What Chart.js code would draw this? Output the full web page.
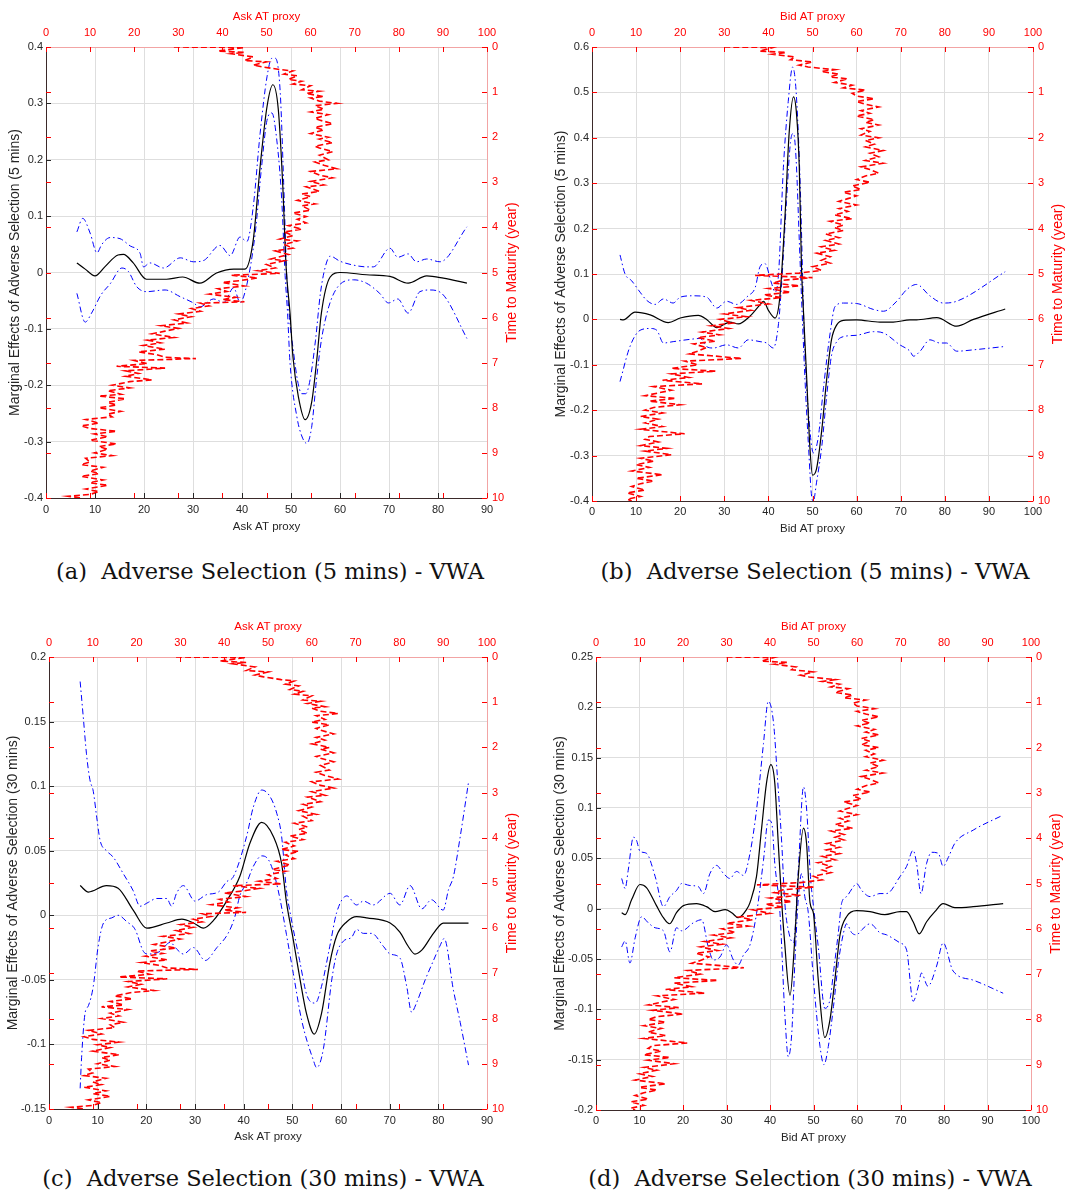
<!DOCTYPE html>
<html><head><meta charset="utf-8">
<script src="https://cdn.jsdelivr.net/npm/chart.js@4.4.1/dist/chart.umd.min.js"></script>
<style>
html,body{margin:0;padding:0;background:#fff;}
body{width:1083px;height:1195px;position:relative;overflow:hidden;}
canvas{position:absolute;display:block;}
.cap{position:absolute;font-family:"DejaVu Serif","Liberation Serif",serif;font-size:22.5px;color:#111;white-space:nowrap;transform:translateX(-50%);line-height:26px;}
</style></head><body>
<canvas id="ca" width="540" height="545" style="left:0;top:0"></canvas>
<canvas id="cb" width="543" height="545" style="left:540px;top:0"></canvas>
<canvas id="cc" width="540" height="545" style="left:0;top:610px"></canvas>
<canvas id="cd" width="543" height="545" style="left:540px;top:610px"></canvas>
<div class="cap" style="left:270px;top:558px">(a)&nbsp; Adverse Selection (5 mins) - VWA</div>
<div class="cap" style="left:815px;top:558px">(b)&nbsp; Adverse Selection (5 mins) - VWA</div>
<div class="cap" style="left:263px;top:1165px">(c)&nbsp; Adverse Selection (30 mins) - VWA</div>
<div class="cap" style="left:810px;top:1165px">(d)&nbsp; Adverse Selection (30 mins) - VWA</div>
<script>
// ---------------- tick labels ----------------
const xTicks90 = [0,10,20,30,40,50,60,70,80,90];
const xTicks100 = [0,10,20,30,40,50,60,70,80,90,100];
const topTicks = [0,10,20,30,40,50,60,70,80,90,100];
const maturityTicks = [0,1,2,3,4,5,6,7,8,9,10];
const yTicksA = [-0.4,-0.3,-0.2,-0.1,0,0.1,0.2,0.3,0.4];
const yTicksB = [-0.4,-0.3,-0.2,-0.1,0,0.1,0.2,0.3,0.4,0.5,0.6];
const yTicksC = [-0.15,-0.1,-0.05,0,0.05,0.1,0.15,0.2];
const yTicksD = [-0.2,-0.15,-0.1,-0.05,0,0.05,0.1,0.15,0.2,0.25];

// ---------------- red series: [time to maturity, AT proxy] ----------------
const askPath = [[0,29],[0.005,37],[0.01,45],[0.09,39],[0.12,45],[0.15,42],[0.22,47],[0.3,45],[0.33,50],[0.4,47],[0.44,49],[0.5,53],[0.53,56],[0.6,54],[0.64,57],[0.72,55],[0.76,58],[0.82,56],[0.86,60],[0.95,58],[0.98,62],[1.03,59],[1.1,63],[1.13,60],[1.2,62],[1.25,66],[1.3,61],[1.38,63],[1.44,60],[1.5,64],[1.58,61],[1.62,62],[1.7,65],[1.78,61],[1.84,63],[1.92,60],[2.0,64],[2.04,62],[2.12,65],[2.2,61],[2.24,62],[2.32,65],[2.4,62],[2.5,64],[2.55,61],[2.62,63],[2.7,66],[2.76,60],[2.84,62],[2.9,65],[2.98,60],[3.06,63],[3.1,59],[3.2,62],[3.26,58],[3.32,60],[3.4,57],[3.48,61],[3.52,58],[3.62,60],[3.68,56],[3.76,59],[3.82,57],[3.9,59],[3.96,55],[4.04,58],[4.1,54],[4.18,56],[4.26,53],[4.3,57],[4.38,54],[4.46,56],[4.52,52],[4.6,55],[4.7,51],[4.74,54],[4.82,50],[4.9,52],[4.96,48],[5.02,53],[5.06,42],[5.12,48],[5.18,44],[5.22,40],[5.3,45],[5.36,39],[5.42,41],[5.48,37],[5.55,43],[5.6,40],[5.65,45],[5.68,35],[5.74,37],[5.8,33],[5.86,35],[5.92,30],[5.98,33],[6.05,29],[6.12,32],[6.18,26],[6.24,30],[6.3,27],[6.36,24],[6.44,29],[6.5,23],[6.56,26],[6.62,22],[6.7,27],[6.76,21],[6.82,25],[6.88,27],[6.91,34],[6.95,20],[7.02,23],[7.08,16],[7.12,27],[7.18,18],[7.24,21],[7.3,18],[7.38,24],[7.42,19],[7.5,15],[7.56,19],[7.62,14],[7.7,17],[7.74,12],[7.8,18],[7.88,14],[7.94,16],[8.0,12],[8.08,17],[8.14,14],[8.2,15],[8.26,9],[8.34,12],[8.4,8],[8.46,10],[8.52,16],[8.58,11],[8.64,14],[8.72,10],[8.8,16],[8.86,12],[8.92,14],[9.0,11],[9.06,15],[9.12,9],[9.2,10],[9.26,8],[9.32,13],[9.4,10],[9.46,12],[9.52,8],[9.6,13],[9.66,10],[9.72,14],[9.8,9],[9.86,12],[9.92,10],[9.96,5],[10,8]];
const bidPath = [[0,30],[0.005,36],[0.01,41],[0.09,38],[0.12,44],[0.16,41],[0.22,46],[0.28,45],[0.33,50],[0.4,47],[0.44,49],[0.5,55],[0.54,52],[0.6,56],[0.66,54],[0.7,58],[0.78,55],[0.84,59],[0.9,57],[0.95,62],[1.02,59],[1.08,60],[1.14,64],[1.2,60],[1.26,62],[1.32,65],[1.4,61],[1.46,63],[1.52,60],[1.6,64],[1.66,62],[1.72,65],[1.8,61],[1.86,63],[1.94,61],[2.0,65],[2.06,62],[2.14,64],[2.2,62],[2.28,66],[2.34,63],[2.42,65],[2.5,62],[2.56,66],[2.64,61],[2.7,63],[2.78,65],[2.84,62],[2.92,60],[2.98,63],[3.06,59],[3.14,61],[3.2,57],[3.28,60],[3.34,58],[3.4,56],[3.48,60],[3.56,56],[3.62,58],[3.7,55],[3.78,59],[3.84,54],[3.92,57],[3.98,55],[4.04,57],[4.12,53],[4.2,56],[4.26,53],[4.34,56],[4.4,52],[4.48,55],[4.54,51],[4.62,54],[4.7,52],[4.76,54],[4.84,50],[4.92,52],[4.98,47],[5.03,37],[5.08,50],[5.14,43],[5.2,41],[5.26,47],[5.32,40],[5.4,45],[5.46,39],[5.52,43],[5.58,36],[5.66,40],[5.74,33],[5.8,36],[5.88,30],[5.94,35],[6.0,29],[6.08,32],[6.14,27],[6.2,31],[6.28,25],[6.34,29],[6.4,24],[6.48,28],[6.54,23],[6.62,26],[6.7,24],[6.76,22],[6.8,27],[6.86,34],[6.92,21],[7.0,24],[7.08,18],[7.14,28],[7.2,18],[7.28,22],[7.34,16],[7.42,25],[7.48,14],[7.56,18],[7.62,15],[7.68,12],[7.74,19],[7.8,13],[7.88,20],[7.94,14],[8.0,12],[8.06,16],[8.14,11],[8.2,15],[8.28,12],[8.36,16],[8.42,11],[8.52,21],[8.58,13],[8.64,12],[8.7,15],[8.78,11],[8.84,17],[8.9,12],[8.98,18],[9.06,11],[9.12,14],[9.2,10],[9.26,13],[9.34,9],[9.42,16],[9.5,10],[9.56,14],[9.62,11],[9.68,9],[9.76,12],[9.82,8],[9.9,11],[9.96,8],[10,9]];

// ---------------- panel (a) ----------------
const aMidX = [6.3,8,10,12,14.7,15.8,17.8,20.5,24.6,27.9,31.4,34.8,38.3,40.6,42.3,43.7,45.1,46.3,47.4,48.3,49,49.8,50.4,51.5,52.9,54.2,55.2,56.2,58,60,65.4,70.2,73.9,77.7,81.1,85.9];
const aMidY = [0.017,0.006,-0.006,0.01,0.031,0.032,0.017,-0.012,-0.012,-0.008,-0.019,-0.001,0.006,0.006,0.058,0.188,0.294,0.333,0.29,0.158,0.01,-0.072,-0.15,-0.22,-0.261,-0.231,-0.16,-0.072,-0.008,0,-0.004,-0.007,-0.019,-0.006,-0.01,-0.019];
const aUpX = [6.3,7.5,9,10.4,11.4,13.1,15.1,17.2,19.2,19.9,21.2,24,27.4,30.1,32.1,35.5,37.6,39.6,41,42.3,43.7,45.1,46.1,46.8,47.8,48.5,49.1,49.7,50.5,51.3,52.2,53,53.9,55,56,57,58,60,62.8,65.4,66.8,70.2,71.8,73.9,75.6,77.7,80.4,85.9];
const aUpY = [0.072,0.096,0.07,0.035,0.05,0.062,0.06,0.047,0.034,0.01,0.017,0.008,0.026,0.019,0.021,0.048,0.03,0.063,0.055,0.117,0.247,0.347,0.38,0.38,0.32,0.16,0.0,-0.08,-0.14,-0.19,-0.215,-0.215,-0.19,-0.12,-0.037,0.01,0.029,0.02,0.013,0.01,0.01,0.043,0.027,0.033,0.019,0.024,0.019,0.081];
const aLoX = [6.3,8,9.3,11.2,13.1,15.5,16.8,18.5,20.5,24.3,27.4,30.1,31.4,34.2,36.3,38.3,39.6,41,42.7,44,45.1,46.1,47.1,48.1,48.8,49.3,49.8,51.2,52.2,53.2,54.2,55.2,56.2,57.7,59.5,62.8,65.4,68.1,69.9,71.8,73.9,76.3,78.4,81.1,85.9];
const aLoY = [-0.037,-0.088,-0.072,-0.04,-0.02,0.008,0.002,-0.025,-0.034,-0.031,-0.043,-0.054,-0.061,-0.047,-0.053,-0.027,-0.053,-0.021,0.07,0.188,0.27,0.283,0.235,0.13,-0.005,-0.072,-0.16,-0.256,-0.29,-0.303,-0.275,-0.19,-0.12,-0.061,-0.026,-0.013,-0.019,-0.037,-0.054,-0.047,-0.072,-0.034,-0.031,-0.04,-0.117];

// ---------------- panel (b) ----------------
const bMidX = [6.35,7.1,9.75,13.2,17.3,20,24.1,26,28.3,31.3,33.2,35.8,38.1,38.9,40,41.5,42.6,43.8,44.7,45.7,46.4,47,47.5,47.9,48.7,49.4,50,50.9,52.1,53.2,54.3,55.5,57,60,65.3,68.3,72.1,73.6,78.2,82.7,86.5,93.7];
const bMidY = [0,-0.001,0.016,0.01,-0.007,0.003,0.009,0,-0.018,-0.006,-0.01,0.007,0.032,0.04,0.02,0.003,0.05,0.234,0.41,0.49,0.45,0.336,0.116,0.028,-0.133,-0.28,-0.343,-0.33,-0.244,-0.133,-0.045,-0.012,-0.002,-0.001,-0.006,-0.006,-0.001,-0.001,0.004,-0.015,0,0.023];
const bUpX = [6.35,7.5,9,10.9,12.4,14.3,16.2,18.4,20,23,26,28.3,30.5,32.8,35.4,37,38.1,39.2,40.7,41.5,42.3,43.4,44.5,45.5,46.3,47.2,47.8,48.1,49.1,50.2,51.3,52.5,54,55.1,57,60,63.8,66.1,69.1,71.4,73.6,76.6,79.7,82.7,93.7];
const bUpY = [0.142,0.1,0.085,0.06,0.042,0.033,0.045,0.036,0.049,0.052,0.049,0.025,0.04,0.033,0.052,0.07,0.116,0.123,0.08,0.06,0.1,0.335,0.48,0.556,0.5,0.3,0.08,-0.03,-0.206,-0.294,-0.26,-0.15,-0.03,0.028,0.036,0.035,0.022,0.018,0.04,0.066,0.077,0.052,0.036,0.04,0.105];
const bLoX = [6.35,8.6,10.9,13.2,14.7,16.2,18.4,22.2,24.5,26,27.5,30.5,33.2,35.4,38.1,39.6,41.1,42.3,43,44.1,45,45.7,46.3,47,47.5,48.3,49.1,49.8,50.2,50.9,52.1,53.2,54.3,55.5,57,60,63.8,66.1,69.8,72.1,72.9,74.4,76.6,78.9,80.4,82.7,86.5,93.3];
const bLoY = [-0.137,-0.06,-0.024,-0.02,-0.024,-0.052,-0.049,-0.044,-0.042,-0.06,-0.063,-0.056,-0.063,-0.045,-0.049,-0.052,-0.063,-0.009,0.08,0.26,0.39,0.41,0.35,0.175,0.05,-0.133,-0.28,-0.39,-0.4,-0.36,-0.28,-0.17,-0.08,-0.049,-0.038,-0.035,-0.027,-0.03,-0.056,-0.07,-0.081,-0.07,-0.045,-0.052,-0.052,-0.07,-0.067,-0.06];

// ---------------- panel (c) ----------------
const cMidX = [6.4,8.1,11.8,14.2,17.3,20.1,24.2,27.3,29.7,31.7,33.8,36.5,39.2,41.3,43.7,46.1,47.8,48.8,50.2,51.6,52.9,54.5,56,57.7,59.1,61.2,63.2,65.3,70.1,72.1,73.8,75.2,76.6,79,81,86.2];
const cMidY = [0.023,0.018,0.023,0.021,0.004,-0.01,-0.006,-0.003,-0.006,-0.01,-0.004,0.011,0.03,0.056,0.072,0.061,0.04,0.01,-0.019,-0.05,-0.076,-0.092,-0.076,-0.037,-0.016,-0.005,-0.001,-0.002,-0.006,-0.013,-0.024,-0.03,-0.027,-0.014,-0.006,-0.006];
const cUpX = [6.4,7.1,7.7,8.4,9.1,9.8,10.5,11.8,13.2,15.3,17.3,18.7,20.4,22.1,24.2,25.2,26.2,27.6,30,32.4,34.8,36.5,37.9,40.6,42,43.7,45.4,46.8,47.8,48.8,49.5,51.5,53,54.7,56,57.7,59.1,61.2,63.2,64.6,66.6,70.1,72.1,74.2,76.6,78.6,81,82.1,83.1,84.5,86.2];
const cUpY = [0.181,0.151,0.125,0.105,0.096,0.076,0.058,0.05,0.045,0.032,0.019,0.007,0.01,0.013,0.013,0.007,0.017,0.023,0.011,0.016,0.018,0.026,0.03,0.061,0.084,0.097,0.092,0.079,0.061,0.019,0.003,-0.035,-0.062,-0.068,-0.055,-0.024,0.002,0.015,0.008,0.011,0.008,0.017,0.008,0.023,0.005,0.012,0.004,0.02,0.03,0.061,0.103];
const cLoX = [6.4,6.7,7.4,8.1,9.1,10.1,11.2,12.9,14.2,16,17.7,19.4,20.4,22.8,24.9,26.2,27.6,29.7,32.1,34.5,36.8,38.2,39.2,40.6,42,43.7,45.1,46.4,47.5,48.8,50.2,51.9,54.3,55,56.4,58.1,59.1,60.5,62.2,63.2,64.6,66.3,68.7,70.1,72.1,73.5,74.5,75.5,77.3,79,80.3,81.2,83.1,84.5,86.2];
const cLoY = [-0.134,-0.11,-0.076,-0.07,-0.055,-0.024,-0.006,-0.002,0,-0.005,-0.011,-0.028,-0.03,-0.028,-0.021,-0.026,-0.03,-0.025,-0.035,-0.025,-0.014,-0.001,0.015,0.025,0.038,0.046,0.043,0.03,0.012,-0.015,-0.045,-0.081,-0.112,-0.118,-0.103,-0.05,-0.03,-0.02,-0.017,-0.011,-0.014,-0.014,-0.024,-0.03,-0.033,-0.055,-0.075,-0.068,-0.05,-0.035,-0.024,-0.018,-0.058,-0.083,-0.116];

// ---------------- panel (d) ----------------
const dMidX = [5.9,6.7,8.2,10.1,11.6,13.9,15.5,16.9,18.5,20.1,23.1,25.4,27.4,29.7,31.2,32.7,34.6,35.4,36.9,38.1,39.2,40.2,41.1,41.9,42.7,43.3,44.6,45.7,46.5,47.7,48.4,49.2,50,51.1,52.6,53.8,54.9,56.1,57.6,59.9,63,66.4,69.9,71.4,72.9,74.3,76,77.9,79.8,82.5,86.7,93.6];
const dMidY = [-0.004,-0.006,0.009,0.024,0.021,0.003,-0.009,-0.015,-0.004,0.003,0.005,0.002,-0.003,-0.001,-0.004,-0.009,-0.001,0.006,0.032,0.081,0.125,0.143,0.125,0.065,0.006,-0.03,-0.086,-0.03,0.032,0.08,0.065,0.006,-0.005,-0.071,-0.128,-0.11,-0.071,-0.026,-0.008,-0.002,-0.003,-0.006,-0.003,-0.003,-0.013,-0.025,-0.013,-0.003,0.005,0.001,0.002,0.005];
const dUpX = [5.9,6.7,7.4,8.6,9.3,10.1,11.6,13.6,15.5,17,18.5,19.7,21.6,23.5,24.7,26.2,27.7,29.3,30.8,32.3,33.9,35.4,36.9,38.5,39.6,40.8,41.7,42.7,43.4,44.4,45.4,46.5,47.7,48.4,49.3,50,51.1,52.6,53.8,54.6,55.7,56.5,57.6,59.2,59.9,61.1,63,65.3,66.8,69.9,71.4,72.9,73.7,74.7,76,77.2,78.7,79.8,81,82.5,86.7,93.6];
const dUpY = [0.03,0.02,0.038,0.071,0.068,0.057,0.055,0.032,0.002,0.012,0.018,0.025,0.023,0.022,0.015,0.035,0.043,0.035,0.03,0.037,0.033,0.055,0.098,0.164,0.206,0.185,0.131,0.065,0.006,-0.025,-0.034,0.038,0.121,0.1,0.032,0.002,-0.038,-0.099,-0.09,-0.063,-0.024,0.006,0.012,0.022,0.025,0.018,0.012,0.015,0.015,0.032,0.042,0.058,0.045,0.015,0.045,0.056,0.055,0.042,0.051,0.065,0.078,0.093];
const dLoX = [5.9,6.7,7.8,9,10.5,12,13.6,15.5,17,18.5,19.7,22.4,24.3,25.8,27,28.5,30,31.6,32.7,33.9,35.4,36.9,38.5,39.6,40.4,41.1,42.3,43.4,44.2,45,45.7,46.5,47.3,48,48.8,50,51.5,52.4,53.4,54.6,55.7,56.9,57.6,58.8,59.9,61.1,63,65.3,66.8,69.9,71.4,72.9,74.1,74.8,76.3,78.3,79.8,82.1,86.7,93.6];
const dLoY = [-0.038,-0.032,-0.054,-0.029,-0.008,-0.014,-0.019,-0.022,-0.043,-0.019,-0.022,-0.014,-0.011,-0.038,-0.051,-0.048,-0.036,-0.051,-0.056,-0.046,-0.036,-0.005,0.048,0.088,0.085,0.045,-0.005,-0.104,-0.147,-0.124,-0.055,0.01,0.035,0.012,-0.004,-0.071,-0.137,-0.155,-0.137,-0.097,-0.054,-0.024,-0.015,-0.024,-0.026,-0.021,-0.015,-0.024,-0.026,-0.034,-0.041,-0.092,-0.077,-0.064,-0.077,-0.057,-0.034,-0.062,-0.071,-0.084];

// ---------------- styling / fonts ----------------
const RED = '#ff0000';
const DARK = '#262626';
function hasFont(name){
  const c = document.createElement('canvas').getContext('2d');
  const s = 'abcdefghijklmnopqrstuvwxyz0123456789';
  c.font = '20px monospace'; const w0 = c.measureText(s).width;
  c.font = '20px "' + name + '", monospace'; return Math.abs(c.measureText(s).width - w0) > 0.5;
}
const NARROW = hasFont('Liberation Sans Narrow');
const HFAM = NARROW ? '"Liberation Sans Narrow", "Liberation Sans", Arial, sans-serif' : '"Liberation Sans", Arial, sans-serif';
const TICK = NARROW ? 12.5 : 11;
const HT = NARROW ? 13.5 : 11.5;      // horizontal axis titles
const VFAM = '"Liberation Sans", Arial, sans-serif';
const VT = 14;                        // vertical axis titles

const zip = (xs, ys) => xs.map((x, i) => ({x, y: ys[i]}));
const pathPts = p => p.map(([t, v]) => ({x: v, y: t}));
const fixTicks = arr => s => { s.ticks = arr.map(v => ({value: v})); };

const inwardTicks = {
  id: 'inwardTicks',
  afterDatasetsDraw(chart) {
    const {ctx, chartArea: a, scales: s} = chart;
    const L = 5;
    const seg = (x1, y1, x2, y2) => { ctx.beginPath(); ctx.moveTo(x1, y1); ctx.lineTo(x2, y2); ctx.stroke(); };
    const px = (sc, v) => Math.round(sc.getPixelForValue(v)) + 0.5;
    ctx.save();
    ctx.lineWidth = 1;
    ctx.strokeStyle = DARK;
    s.y.ticks.forEach(t => { const p = px(s.y, t.value); seg(a.left, p, a.left + L, p); });
    s.x.ticks.forEach(t => { const p = px(s.x, t.value); seg(p, a.bottom, p, a.bottom - L); });
    ctx.strokeStyle = RED;
    s.y2.ticks.forEach(t => { const p = px(s.y2, t.value); seg(a.right, p, a.right - L, p); seg(a.left, p, a.left + L, p); });
    s.x2.ticks.forEach(t => { const p = px(s.x2, t.value); seg(p, a.top, p, a.top + L); seg(p, a.bottom, p, a.bottom - L); });
    ctx.restore();
  }
};
const rightTitle = {
  id: 'rightTitle',
  afterDraw(chart, args, opts) {
    const {ctx, chartArea: a} = chart;
    ctx.save();
    ctx.translate(a.right + opts.offset, (a.top + a.bottom) / 2);
    ctx.rotate(-Math.PI / 2);
    ctx.font = VT + 'px ' + VFAM;
    ctx.fillStyle = RED; ctx.textAlign = 'center'; ctx.textBaseline = 'middle';
    ctx.fillText(opts.text, 0, 0);
    ctx.restore();
  }
};

function makePanel(id, g, d) {
  const W = document.getElementById(id).width, H = document.getElementById(id).height;
  const a = g.area;
  const tickLH = TICK * 1.2, htLH = HT * 1.2, vtLH = VT * 1.2;
  return new Chart(document.getElementById(id), {
    type: 'scatter',
    data: { datasets: [
      { data: pathPts(d.red), xAxisID: 'x2', yAxisID: 'y2', showLine: true, borderColor: RED, borderWidth: 1.6, borderDash: [6, 3], pointRadius: 0, tension: 0 },
      { data: zip(d.midX, d.midY), xAxisID: 'x', yAxisID: 'y', showLine: true, borderColor: '#000', borderWidth: 1.2, pointRadius: 0, cubicInterpolationMode: 'monotone' },
      { data: zip(d.upX, d.upY), xAxisID: 'x', yAxisID: 'y', showLine: true, borderColor: '#0000ff', borderWidth: 1, borderDash: [6, 3, 1.5, 3], pointRadius: 0, cubicInterpolationMode: 'monotone' },
      { data: zip(d.loX, d.loY), xAxisID: 'x', yAxisID: 'y', showLine: true, borderColor: '#0000ff', borderWidth: 1, borderDash: [6, 3, 1.5, 3], pointRadius: 0, cubicInterpolationMode: 'monotone' }
    ]},
    options: {
      responsive: false, animation: false, events: [],
      layout: { padding: 0, autoPadding: false },
      plugins: { legend: { display: false }, tooltip: { enabled: false }, rightTitle: { text: 'Time to Maturity (year)', offset: 25 } },
      scales: {
        x: { type: 'linear', position: 'bottom', min: 0, max: d.xMax, afterBuildTicks: fixTicks(d.xTicks),
             ticks: { autoSkip: false, maxRotation: 0, color: DARK, font: { family: HFAM, size: TICK }, padding: (g.bLab - a.b) - tickLH / 2, callback: v => String(v) },
             grid: { color: '#dedede', lineWidth: 1, drawTicks: false }, border: { color: '#3b2a2a', width: 1 },
             title: { display: true, text: d.xTitle, color: DARK, font: { family: HFAM, size: HT }, padding: { top: 0, bottom: (H - g.bTit) - htLH / 2 } },
             afterFit: s => { s.height = H - a.b; } },
        x2: { type: 'linear', position: 'top', min: 0, max: 100, afterBuildTicks: fixTicks(topTicks),
             ticks: { autoSkip: false, maxRotation: 0, color: RED, font: { family: HFAM, size: TICK }, padding: (a.t - 33) - tickLH / 2, callback: v => String(v) },
             grid: { color: 'rgba(0,0,0,0)', drawTicks: false }, border: { color: '#f2a4a4', width: 1 },
             title: { display: true, text: d.xTitle, color: RED, font: { family: HFAM, size: HT }, padding: { top: 17 - htLH / 2, bottom: 0 } },
             afterFit: s => { s.height = a.t; } },
        y: { type: 'linear', position: 'left', min: d.yMin, max: d.yMax, afterBuildTicks: fixTicks(d.yTicks),
             ticks: { autoSkip: false, color: DARK, font: { family: HFAM, size: TICK }, padding: 3, callback: v => String(v) },
             grid: { color: '#dedede', lineWidth: 1, drawTicks: false }, border: { color: '#3b2a2a', width: 1 },
             title: { display: true, text: d.yTitle, color: DARK, font: { family: VFAM, size: VT }, padding: { top: g.lTit - vtLH / 2, bottom: 0 } },
             afterFit: s => { s.width = a.l; } },
        y2: { type: 'linear', position: 'right', min: 0, max: 10, reverse: true, afterBuildTicks: fixTicks(maturityTicks),
             ticks: { autoSkip: false, color: RED, font: { family: HFAM, size: TICK }, padding: 5, callback: v => String(v) },
             grid: { color: 'rgba(0,0,0,0)', drawTicks: false }, border: { color: '#f2a4a4', width: 1 },
             title: { display: false },
             afterFit: s => { s.width = W - a.r; } }
      }
    },
    plugins: [inwardTicks, rightTitle]
  });
}

Chart.defaults.font.family = HFAM;

makePanel('ca', { area: { l: 46, t: 47, r: 487, b: 498 }, bLab: 510, bTit: 527, lTit: 15 },
  { red: askPath, midX: aMidX, midY: aMidY, upX: aUpX, upY: aUpY, loX: aLoX, loY: aLoY,
    xMax: 90, xTicks: xTicks90, yMin: -0.4, yMax: 0.4, yTicks: yTicksA,
    xTitle: 'Ask AT proxy', yTitle: 'Marginal Effects of Adverse Selection (5 mins)' });
makePanel('cb', { area: { l: 52, t: 47, r: 493, b: 501 }, bLab: 512, bTit: 529, lTit: 21 },
  { red: bidPath, midX: bMidX, midY: bMidY, upX: bUpX, upY: bUpY, loX: bLoX, loY: bLoY,
    xMax: 100, xTicks: xTicks100, yMin: -0.4, yMax: 0.6, yTicks: yTicksB,
    xTitle: 'Bid AT proxy', yTitle: 'Marginal Effects of Adverse Selection (5 mins)' });
makePanel('cc', { area: { l: 49, t: 47, r: 487, b: 499 }, bLab: 511, bTit: 527, lTit: 13 },
  { red: askPath, midX: cMidX, midY: cMidY, upX: cUpX, upY: cUpY, loX: cLoX, loY: cLoY,
    xMax: 90, xTicks: xTicks90, yMin: -0.15, yMax: 0.2, yTicks: yTicksC,
    xTitle: 'Ask AT proxy', yTitle: 'Marginal Effects of Adverse Selection (30 mins)' });
makePanel('cd', { area: { l: 56, t: 47, r: 491, b: 500 }, bLab: 511, bTit: 528, lTit: 20 },
  { red: bidPath, midX: dMidX, midY: dMidY, upX: dUpX, upY: dUpY, loX: dLoX, loY: dLoY,
    xMax: 100, xTicks: xTicks100, yMin: -0.2, yMax: 0.25, yTicks: yTicksD,
    xTitle: 'Bid AT proxy', yTitle: 'Marginal Effects of Adverse Selection (30 mins)' });
</script>
</body></html>
